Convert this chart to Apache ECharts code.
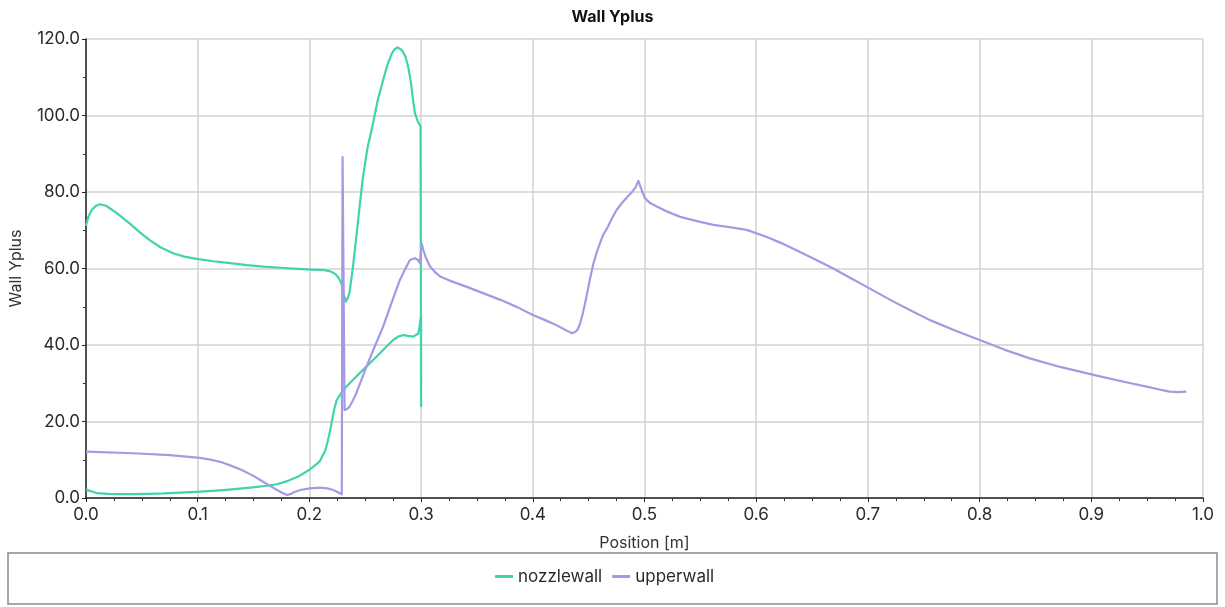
<!DOCTYPE html>
<html>
<head>
<meta charset="utf-8">
<title>Wall Yplus</title>
<script src="https://cdn.jsdelivr.net/npm/echarts@6/dist/echarts.min.js"></script>
<style>
  html, body { margin: 0; padding: 0; background: #ffffff; }
  #chart { width: 1225px; height: 607px; }
</style>
</head>
<body>
<div id="chart"></div>
<script>
// Wall y+ along the nozzle wall (closed loop: upper side, trailing edge, lower side)
const nozzlewall = [
  [0, 71.2], [0.002, 73.4], [0.005, 75.3], [0.009, 76.4], [0.0125, 76.8], [0.018, 76.4],
  [0.027, 74.6], [0.039, 71.8], [0.048, 69.5], [0.057, 67.4], [0.067, 65.5], [0.078, 64.0],
  [0.088, 63.1], [0.099, 62.5], [0.114, 61.9], [0.129, 61.4], [0.144, 60.9], [0.159, 60.5],
  [0.174, 60.2], [0.189, 59.9], [0.202, 59.7], [0.212, 59.6], [0.217, 59.4], [0.220, 59.1],
  [0.223, 58.6], [0.2255, 57.8], [0.2275, 56.8], [0.229, 55.8], [0.2305, 53.5], [0.2325, 51.3],
  [0.2345, 52.4], [0.236, 53.8], [0.239, 60.5], [0.242, 68.3], [0.245, 76.3], [0.248, 84.0],
  [0.252, 91.5], [0.257, 98.0], [0.261, 103.8], [0.266, 109.3], [0.270, 113.4], [0.274, 116.3],
  [0.2765, 117.4], [0.279, 117.8], [0.283, 117.0], [0.286, 115.4], [0.2885, 112.6], [0.291, 108.4],
  [0.2925, 104.7], [0.2945, 100.6], [0.297, 98.5], [0.2995, 97.1], [0.3, 24.0], [0.3, 48.0],
  [0.2985, 44.5], [0.2975, 43.0], [0.293, 42.2], [0.288, 42.4], [0.284, 42.6], [0.2795, 42.2],
  [0.275, 41.3], [0.269, 39.6], [0.263, 37.8], [0.255, 35.5], [0.248, 33.5], [0.240, 31.2],
  [0.233, 29.1], [0.2285, 27.4], [0.2244, 25.6], [0.2225, 23.5], [0.2214, 22.0], [0.2195, 19.0],
  [0.218, 16.9], [0.216, 14.3], [0.214, 12.3], [0.209, 9.5], [0.2045, 8.4], [0.2, 7.4],
  [0.19, 5.6], [0.18, 4.4], [0.171, 3.6], [0.162, 3.2], [0.147, 2.7], [0.133, 2.3],
  [0.12, 2.0], [0.102, 1.65], [0.085, 1.4], [0.07, 1.2], [0.055, 1.1], [0.042, 1.0],
  [0.03, 1.0], [0.02, 1.1], [0.0096, 1.3], [0.005, 1.7], [0.002, 2.0], [0, 2.3]
];

// Wall y+ along the upper wall
const upperwall = [
  [0, 12.1], [0.042, 11.7], [0.075, 11.2], [0.102, 10.5], [0.112, 10.0], [0.122, 9.3],
  [0.132, 8.2], [0.139, 7.4], [0.145, 6.5], [0.151, 5.6], [0.156, 4.7], [0.164, 3.3],
  [0.171, 2.1], [0.176, 1.3], [0.18, 0.8], [0.183, 1.0], [0.186, 1.5], [0.192, 2.1],
  [0.2, 2.5], [0.2095, 2.7], [0.216, 2.5], [0.2214, 2.1], [0.2255, 1.5], [0.229, 0.96],
  [0.2297, 89.1], [0.2315, 23.0], [0.2335, 23.2], [0.236, 23.9], [0.239, 25.5], [0.242, 27.4],
  [0.2465, 30.8], [0.251, 34.3], [0.2585, 39.6], [0.266, 44.8], [0.2735, 51.0], [0.281, 57.0],
  [0.286, 60.0], [0.29, 62.2], [0.2945, 62.7], [0.297, 62.3], [0.299, 61.4], [0.3005, 66.6],
  [0.302, 64.8], [0.304, 63.0], [0.308, 60.5], [0.312, 59.2], [0.317, 57.9], [0.325, 56.9],
  [0.341, 55.2], [0.356, 53.5], [0.371, 51.8], [0.386, 49.9], [0.4005, 47.8], [0.411, 46.5],
  [0.421, 45.2], [0.428, 44.1], [0.432, 43.5], [0.435, 43.1], [0.438, 43.4], [0.440, 44.0],
  [0.442, 45.3], [0.445, 48.5], [0.448, 52.6], [0.451, 57.0], [0.454, 61.0], [0.457, 64.0],
  [0.46, 66.5], [0.463, 68.8], [0.467, 70.8], [0.471, 73.2], [0.475, 75.3], [0.48, 77.2],
  [0.485, 78.8], [0.4885, 79.9], [0.492, 81.2], [0.4945, 82.9], [0.4975, 80.5], [0.5004, 78.4],
  [0.505, 77.1], [0.511, 76.2], [0.521, 74.8], [0.532, 73.5], [0.547, 72.4], [0.5616, 71.4],
  [0.576, 70.8], [0.5915, 70.1], [0.609, 68.3], [0.622, 66.7], [0.636, 64.8], [0.652, 62.5],
  [0.669, 60.0], [0.684, 57.6], [0.699, 55.2], [0.72, 51.8], [0.737, 49.2], [0.7556, 46.5],
  [0.778, 43.8], [0.8, 41.3], [0.822, 38.8], [0.845, 36.5], [0.873, 34.2], [0.902, 32.2],
  [0.926, 30.6], [0.9496, 29.1], [0.962, 28.3], [0.97, 27.8], [0.978, 27.7], [0.985, 27.8]
];

// Axis ranges and tick steps
const xTicks = { min: 0, max: 1.0, step: 0.1 };
const yTicks = { min: 0, max: 120, step: 20 };

const seriesNames = ['nozzlewall', 'upperwall'];
const seriesColors = ['#3fd3ae', '#a49ae3'];

const FONT = 'Inter, "Noto Sans", sans-serif';
const chart = echarts.init(document.getElementById('chart'), null, { renderer: 'canvas' });

const axisCommon = {
  axisLine: { show: true, lineStyle: { color: '#222222', width: 1.5 } },
  axisTick: { show: true, length: 4, lineStyle: { color: '#222222', width: 1 } },
  minorTick: { show: true, length: 3, lineStyle: { color: '#333333', width: 1 } },
  splitLine: { show: true, lineStyle: { color: '#d2d2d2', width: 1.5 } },
  nameTextStyle: { color: '#333333', fontSize: 16, fontFamily: FONT },
  axisLabel: { color: '#2a2a2a', fontSize: 17, fontFamily: FONT }
};

chart.setOption({
  animation: false,
  backgroundColor: '#ffffff',
  title: {
    text: 'Wall Yplus',
    left: 'center',
    top: 4,
    textStyle: { fontSize: 16, fontWeight: 'bold', color: '#111111', fontFamily: FONT }
  },
  grid: { left: 86, right: 22, top: 39, bottom: 109, containLabel: false },
  legend: {
    data: seriesNames,
    bottom: 17,
    left: 490,
    itemWidth: 18,
    itemHeight: 3,
    itemGap: 10,
    icon: 'roundRect',
    textStyle: { fontSize: 17, color: '#2a2a2a', fontFamily: FONT }
  },
  graphic: [{
    type: 'rect',
    shape: { x: 8, y: 553, width: 1209, height: 51 },
    style: { fill: 'none', stroke: '#8a8a8a', lineWidth: 1.5 },
    silent: true,
    z: -1
  }],
  xAxis: Object.assign({}, axisCommon, {
    type: 'value',
    min: xTicks.min,
    max: xTicks.max,
    interval: xTicks.step,
    minorTick: Object.assign({}, axisCommon.minorTick, { splitNumber: 4 }),
    name: 'Position [m]',
    nameLocation: 'middle',
    nameGap: 37,
    axisLabel: Object.assign({}, axisCommon.axisLabel, {
      margin: 8,
      formatter: v => v.toFixed(1)
    })
  }),
  yAxis: Object.assign({}, axisCommon, {
    type: 'value',
    min: yTicks.min,
    max: yTicks.max,
    interval: yTicks.step,
    minorTick: Object.assign({}, axisCommon.minorTick, { splitNumber: 2 }),
    name: 'Wall Yplus',
    nameLocation: 'middle',
    nameRotate: 90,
    nameGap: 62,
    axisLabel: Object.assign({}, axisCommon.axisLabel, {
      margin: 6,
      formatter: v => v.toFixed(1)
    })
  }),
  series: [
    {
      name: seriesNames[0],
      type: 'line',
      data: nozzlewall,
      showSymbol: false,
      symbol: 'none',
      smooth: false,
      lineStyle: { color: seriesColors[0], width: 2.2, join: 'round' },
      itemStyle: { color: seriesColors[0] }
    },
    {
      name: seriesNames[1],
      type: 'line',
      data: upperwall,
      showSymbol: false,
      symbol: 'none',
      smooth: false,
      lineStyle: { color: seriesColors[1], width: 2.2, join: 'round' },
      itemStyle: { color: seriesColors[1] }
    }
  ]
});
</script>
</body>
</html>
